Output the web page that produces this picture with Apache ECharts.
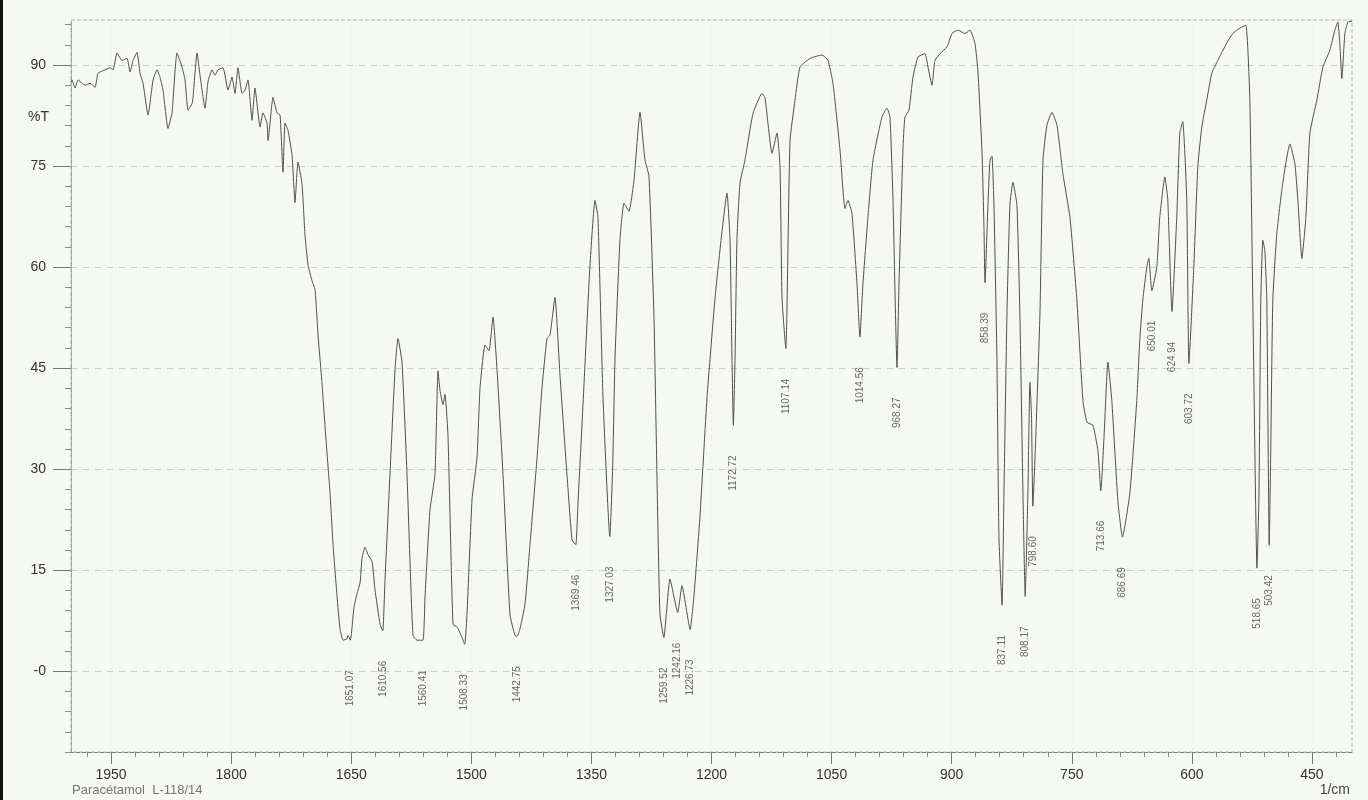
<!DOCTYPE html>
<html><head><meta charset="utf-8">
<script src="https://cdn.jsdelivr.net/npm/echarts@6/dist/echarts.min.js"></script>
<style>html,body{margin:0;padding:0;background:#f5f8f3;}#chart{width:1368px;height:800px;}</style>
</head><body><div id="chart"></div>
<script>
const wavenumber = [2000,1998.8,1995.0,1991.2,1986.2,1982.5,1976.2,1970.0,1966.2,1957.5,1951.2,1947.5,1942.5,1936.3,1930.0,1926.3,1922.5,1917.5,1913.8,1910.0,1903.8,1897.5,1892.5,1888.8,1885.1,1878.8,1873.8,1872.6,1867.6,1861.3,1857.6,1853.8,1848.8,1847.6,1842.6,1838.9,1832.6,1828.9,1823.9,1820.1,1816.4,1810.1,1803.9,1798.9,1795.1,1791.4,1786.4,1782.6,1778.9,1773.9,1770.2,1763.9,1760.2,1755.2,1753.9,1747.7,1742.7,1738.9,1735.2,1732.7,1728.9,1723.9,1720.2,1716.5,1711.5,1707.7,1703.9,1699.0,1695.2,1691.5,1686.5,1685.2,1681.5,1676.5,1672.7,1667.7,1664.0,1660.2,1655.3,1654.0,1651.1,1646.5,1642.8,1639.0,1636.5,1632.8,1629.0,1624.0,1620.3,1614.0,1610.6,1607.8,1601.6,1595.3,1591.6,1586.6,1580.3,1576.6,1572.8,1567.8,1560.4,1557.8,1551.6,1545.4,1541.6,1539.1,1535.4,1532.9,1529.1,1522.9,1517.9,1511.6,1508.3,1505.4,1499.1,1492.9,1489.1,1482.9,1477.9,1472.9,1467.9,1460.4,1451.7,1445.4,1442.8,1439.2,1432.9,1426.7,1417.9,1411.7,1405.5,1401.7,1395.5,1389.2,1380.5,1374.2,1369.5,1366.7,1360.5,1351.8,1345.5,1341.8,1335.5,1327.0,1323.5,1320.5,1314.3,1309.3,1303.1,1296.8,1289.3,1283.1,1278.1,1271.8,1268.1,1264.4,1259.5,1251.9,1242.2,1236.9,1226.7,1221.9,1214.4,1205.6,1195.6,1186.9,1180.7,1176.9,1174.4,1172.7,1170.6,1168.2,1164.4,1158.2,1148.2,1136.9,1133.2,1124.4,1118.2,1114.4,1111.9,1107.1,1105.7,1101.9,1095.7,1089.5,1077.0,1062.0,1054.5,1048.3,1039.5,1033.3,1029.6,1024.6,1018.3,1014.6,1010.8,1004.6,998.3,987.1,980.8,977.1,973.3,968.3,965.8,960.9,958.4,953.4,948.4,942.1,933.4,929.6,924.6,920.9,914.6,905.9,899.6,892.2,883.4,877.2,870.9,867.2,862.2,859.7,858.4,854.7,852.2,849.7,847.2,843.5,841.0,837.1,834.7,831.0,827.3,823.5,818.5,814.8,811.0,808.2,804.8,802.3,800.3,798.6,795.5,789.8,786.0,781.0,774.8,768.5,761.0,752.3,743.6,736.1,731.1,723.6,717.4,713.7,709.5,704.9,700.0,692.5,686.7,677.5,668.8,665.1,661.3,656.3,653.8,650.0,643.8,640.1,633.8,630.1,624.9,618.9,615.1,611.4,606.4,603.7,597.6,592.6,587.6,581.4,575.1,567.6,556.4,548.9,540.0,532.5,527.6,523.9,518.7,516.3,513.9,511.4,508.9,506.4,503.4,501.5,498.9,493.9,486.6,477.6,471.4,467.6,462.6,457.6,452.6,443.9,436.4,427.7,421.4,417.7,415.2,412.7,408.9,405.2,400.0];
const transmittance = [87.5,87.8,86.6,87.8,87.3,87.0,87.3,86.7,88.8,89.3,89.6,89.3,91.8,90.7,91.0,89.0,90.7,91.9,88.8,87.3,82.6,87.8,89.3,88.2,86.3,80.6,82.9,84.8,91.8,89.7,87.8,83.3,84.3,85.2,91.8,88.5,83.6,87.5,89.3,88.5,89.3,89.6,86.3,88.2,85.8,89.6,85.8,86.3,87.8,81.8,86.6,80.8,82.9,81.4,78.8,85.2,82.9,82.6,74.1,81.4,80.3,76.6,69.6,75.6,72.4,64.7,60.3,58.0,56.7,50.0,42.8,40.5,34.4,26.5,18.8,11.1,6.3,4.6,4.8,5.3,4.6,9.5,11.5,13.1,16.8,18.4,17.3,16.3,12.1,7.0,6.0,13.6,29.2,44.8,49.4,45.9,29.2,16.3,5.3,4.6,4.6,11.1,24.0,29.2,44.6,41.7,39.6,41.1,34.9,6.9,6.6,5.0,4.0,8.4,25.5,31.7,42.1,48.4,47.6,52.6,44.8,29.2,8.4,5.3,5.2,6.3,10.0,18.8,31.7,42.1,49.4,49.9,55.5,43.8,29.2,19.5,18.8,25.1,39.6,60.3,69.9,67.4,40.6,20.0,30.0,46.5,64.1,69.5,68.3,72.9,83.0,75.9,73.5,52.4,28.8,8.5,5.0,13.7,8.7,12.7,6.2,11.2,23.0,40.6,55.4,65.3,71.0,64.1,46.5,36.5,46.5,64.1,72.5,75.9,82.8,85.8,85.2,76.9,79.9,74.8,55.4,47.9,54.0,78.8,84.8,89.7,91.0,91.5,90.7,87.3,77.4,68.7,69.9,68.0,57.6,49.6,57.6,67.4,75.9,82.3,83.6,82.3,69.9,45.1,57.6,77.4,82.3,83.3,88.2,91.2,91.7,89.7,87.0,90.7,91.7,92.7,94.7,95.2,94.7,95.2,93.2,89.0,77.3,66.0,57.7,69.2,75.9,76.5,69.2,46.3,20.0,9.8,26.5,52.9,69.2,72.6,69.2,52.9,26.5,11.1,26.5,42.9,38.0,24.5,33.1,52.9,75.9,81.1,83.0,81.1,73.8,67.4,55.1,40.2,37.0,36.5,32.8,26.8,35.3,45.9,40.2,25.4,19.9,26.4,40.2,49.1,55.1,60.0,61.3,56.5,60.0,67.4,73.4,70.0,53.4,67.4,79.9,81.6,70.0,45.7,60.0,74.9,80.8,84.8,88.8,90.7,93.3,94.7,95.5,95.9,84.8,55.1,15.3,25.4,55.1,64.0,62.5,55.1,18.7,32.8,55.1,65.0,72.4,78.3,75.4,69.9,61.3,67.4,79.9,84.8,89.7,92.2,95.2,96.4,93.2,88.0,94.7,96.4,96.5];

const peakPositions = [1651.07,1610.56,1560.41,1508.33,1442.75,1369.46,1327.03,1259.52,1242.16,1226.73,1172.72,1107.14,1014.56,968.27,858.39,837.11,808.17,798.60,713.66,686.69,650.01,624.94,603.72,518.65,503.42];
const peakDepths = [4.6,6.0,4.6,4.0,5.2,18.8,20.0,5.0,8.7,6.2,36.5,47.9,49.6,45.1,57.7,9.8,11.1,24.5,26.8,19.9,56.5,53.4,45.7,15.3,18.7];
const peakLabels = ['1651.07','1610.56','1560.41','1508.33','1442.75','1369.46','1327.03','1259.52','1242.16','1226.73','1172.72','1107.14','1014.56','968.27','858.39','837.11','808.17','798.60','713.66','686.69','650.01','624.94','603.72','518.65','503.42'];

const yMajorTicks = [0,15,30,45,60,75,90];
const yMinorTicks = [-12,-9,-6,-3,0,3,6,9,12,15,18,21,24,27,30,33,36,39,42,45,48,51,54,57,60,63,66,69,72,75,78,81,84,87,90,93,96];
const xMajorTicks = [1950,1800,1650,1500,1350,1200,1050,900,750,600,450];
const xMinorTicks = [1980,1950,1920,1890,1860,1830,1800,1770,1740,1710,1680,1650,1620,1590,1560,1530,1500,1470,1440,1410,1380,1350,1320,1290,1260,1230,1200,1170,1140,1110,1080,1050,1020,990,960,930,900,870,840,810,780,750,720,690,660,630,600,570,540,510,480,450,420];

const FONT = 'Liberation Sans, Arial, sans-serif';
const chart = echarts.init(document.getElementById('chart'), null, {renderer: 'canvas'});
const spectrum = wavenumber.map((w, i) => [w, transmittance[i]]);
const peaks = peakPositions.map((w, i) => ({value: [w, peakDepths[i]], name: peakLabels[i]}));

const Y_MIN = -12, Y_MAX = 96.7, X_MIN = 400, X_MAX = 2000;

chart.setOption({
  backgroundColor: '#f5f8f3',
  animation: false,
  grid: {left: 71, right: 16, top: 20, bottom: 48, show: true, borderColor: '#aeb2ae', borderWidth: 1, borderType: 'dashed', backgroundColor: 'transparent'},
  xAxis: [
    {type: 'value', inverse: true, min: X_MIN, max: X_MAX, position: 'bottom',
     axisLine: {show: true, onZero: false, lineStyle: {color: '#7f837f', width: 1, type: 'dashed'}},
     axisTick: {show: true, customValues: xMinorTicks, length: 5, lineStyle: {color: '#8a8e8a'}},
     axisLabel: {show: false}, splitLine: {show: false}},
    {type: 'value', inverse: true, min: X_MIN, max: X_MAX, position: 'bottom',
     axisLine: {show: false, onZero: false},
     axisTick: {show: true, customValues: xMajorTicks, length: 12, lineStyle: {color: '#777'}},
     axisLabel: {show: true, customValues: xMajorTicks, margin: 16, fontSize: 14, color: '#333', fontFamily: FONT,
                 formatter: v => String(v)},
     splitLine: {show: true, lineStyle: {color: '#e6e9e6', type: [2, 6], width: 1}}}
  ],
  yAxis: [
    {type: 'value', min: Y_MIN, max: Y_MAX, position: 'left',
     axisLine: {show: true, onZero: false, lineStyle: {color: '#9a9e9a', type: 'dotted'}},
     axisTick: {show: true, customValues: yMinorTicks, length: 6, lineStyle: {color: '#8a8e8a'}},
     axisLabel: {show: false}, splitLine: {show: false}},
    {type: 'value', min: Y_MIN, max: Y_MAX, position: 'left',
     axisLine: {show: false, onZero: false},
     axisTick: {show: true, customValues: yMajorTicks, length: 18, lineStyle: {color: '#777'}},
     axisLabel: {show: true, customValues: yMajorTicks, margin: 25, fontSize: 14, color: '#333', fontFamily: FONT,
                 formatter: v => (v === 0 ? '-0' : String(v))},
     splitLine: {show: true, lineStyle: {color: '#c8ccc8', type: [6, 6], width: 1}}}
  ],
  series: [
    {type: 'line', xAxisIndex: 0, yAxisIndex: 0, data: spectrum, showSymbol: false, symbol: 'none',
     smooth: 0.15, lineStyle: {color: '#505050', width: 1}, z: 5},
    {type: 'scatter', xAxisIndex: 0, yAxisIndex: 0, data: peaks, symbolSize: 0, silent: true, z: 6,
     label: {show: true, formatter: '{b}', position: 'bottom', distance: 30, rotate: 90,
             align: 'right', verticalAlign: 'middle', fontSize: 10, color: '#444', fontFamily: FONT}}
  ],
  graphic: [
    {type: 'rect', left: 0, top: 0, shape: {width: 3, height: 800}, style: {fill: '#111'}},
    {type: 'text', left: 28, top: 110, style: {text: '%T', fontSize: 14, fill: '#333', fontFamily: FONT}},
    {type: 'text', left: 72, top: 784, style: {text: 'Paracétamol  L-118/14', fontSize: 13, fill: '#777', fontFamily: FONT}},
    {type: 'text', right: 18, top: 783, style: {text: '1/cm', fontSize: 14, fill: '#444', fontFamily: FONT}}
  ]
});
</script></body></html>
